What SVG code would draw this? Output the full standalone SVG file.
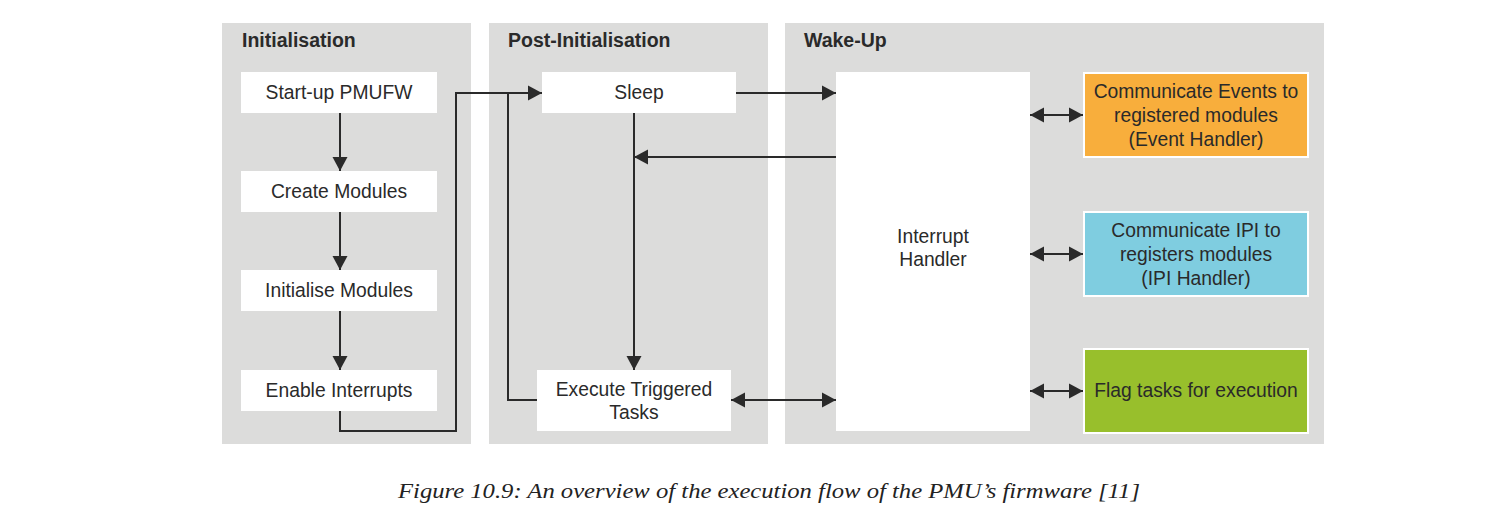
<svg xmlns="http://www.w3.org/2000/svg" width="1498" height="522" viewBox="0 0 1498 522">
<style>
.panel{fill:#dcdcdb}
.box{fill:#ffffff}
.title{font-family:"Liberation Sans",Arial,sans-serif;font-size:19.5px;font-weight:bold;fill:#2a2a2a}
.lbl{font-family:"Liberation Sans",Arial,sans-serif;font-size:19.3px;fill:#2a2a2a;text-anchor:middle}
.conn{fill:none;stroke:#2a2a2a;stroke-width:2}
.cap{font-family:"Liberation Serif","Times New Roman",serif;font-style:italic;font-size:22px;fill:#222;text-anchor:middle}
</style>
<defs>
<marker id="ah" markerUnits="userSpaceOnUse" markerWidth="16" markerHeight="16" refX="14" refY="7.5" orient="auto-start-reverse" viewBox="0 0 16 15">
<path d="M0,0 L14,7.5 L0,15 Z" fill="#2a2a2a"/>
</marker>
</defs>
<rect width="1498" height="522" fill="#ffffff"/>
<g id="panel-init"><rect class="panel" x="222" y="23" width="249" height="421"/><text class="title" x="242" y="47">Initialisation</text></g>
<g id="panel-post"><rect class="panel" x="489" y="23" width="279" height="421"/><text class="title" x="508" y="47">Post-Initialisation</text></g>
<g id="panel-wake"><rect class="panel" x="785" y="23" width="539" height="421"/><text class="title" x="804" y="47">Wake-Up</text></g>

<g id="startup"><rect class="box" x="241" y="72" width="196" height="41"/><text class="lbl" x="339" y="99">Start-up PMUFW</text></g>
<g id="create"><rect class="box" x="241" y="171" width="196" height="41"/><text class="lbl" x="339" y="198">Create Modules</text></g>
<g id="initmod"><rect class="box" x="241" y="270" width="196" height="41"/><text class="lbl" x="339" y="297">Initialise Modules</text></g>
<g id="enable"><rect class="box" x="241" y="370" width="196" height="41"/><text class="lbl" x="339" y="397">Enable Interrupts</text></g>
<g id="sleep"><rect class="box" x="542" y="72" width="194" height="41"/><text class="lbl" x="639" y="99">Sleep</text></g>
<g id="execute"><rect class="box" x="537" y="370" width="194" height="61"/><text class="lbl" x="634" y="396">Execute Triggered</text><text class="lbl" x="634" y="419">Tasks</text></g>
<g id="irq"><rect class="box" x="836" y="72" width="194" height="359"/><text class="lbl" x="933" y="243">Interrupt</text><text class="lbl" x="933" y="266">Handler</text></g>
<g id="events"><rect x="1084" y="73" width="224" height="84" fill="#f8ae3c" stroke="#ffffff" stroke-width="2"/><text class="lbl" x="1196" y="98">Communicate Events to</text><text class="lbl" x="1196" y="122">registered modules</text><text class="lbl" x="1196" y="146">(Event Handler)</text></g>
<g id="ipi"><rect x="1084" y="212" width="224" height="84" fill="#7fcde0" stroke="#ffffff" stroke-width="2"/><text class="lbl" x="1196" y="237">Communicate IPI to</text><text class="lbl" x="1196" y="261">registers modules</text><text class="lbl" x="1196" y="285">(IPI Handler)</text></g>
<g id="flag"><rect x="1084" y="349" width="224" height="84" fill="#98bf2c" stroke="#ffffff" stroke-width="2"/><text class="lbl" x="1196" y="397">Flag tasks for execution</text></g>

<g id="connectors">
<line class="conn" x1="340" y1="113" x2="340" y2="171" marker-end="url(#ah)"/>
<line class="conn" x1="340" y1="212" x2="340" y2="270" marker-end="url(#ah)"/>
<line class="conn" x1="340" y1="311" x2="340" y2="370" marker-end="url(#ah)"/>
<polyline class="conn" points="340,411 340,431 456,431 456,93 542,93" marker-end="url(#ah)"/>
<polyline class="conn" points="537,400 508,400 508,93"/>
<line class="conn" x1="736" y1="93" x2="836" y2="93" marker-end="url(#ah)"/>
<line class="conn" x1="634" y1="113" x2="634" y2="370" marker-end="url(#ah)"/>
<line class="conn" x1="836" y1="157" x2="634" y2="157" marker-end="url(#ah)"/>
<line class="conn" x1="731" y1="400" x2="836" y2="400" marker-start="url(#ah)" marker-end="url(#ah)"/>
<line class="conn" x1="1030" y1="115" x2="1083" y2="115" marker-start="url(#ah)" marker-end="url(#ah)"/>
<line class="conn" x1="1030" y1="254" x2="1083" y2="254" marker-start="url(#ah)" marker-end="url(#ah)"/>
<line class="conn" x1="1030" y1="391" x2="1083" y2="391" marker-start="url(#ah)" marker-end="url(#ah)"/>
</g>
<text class="cap" x="769" y="498" textLength="742" lengthAdjust="spacingAndGlyphs">Figure 10.9: An overview of the execution flow of the PMU’s firmware [11]</text>
</svg>
